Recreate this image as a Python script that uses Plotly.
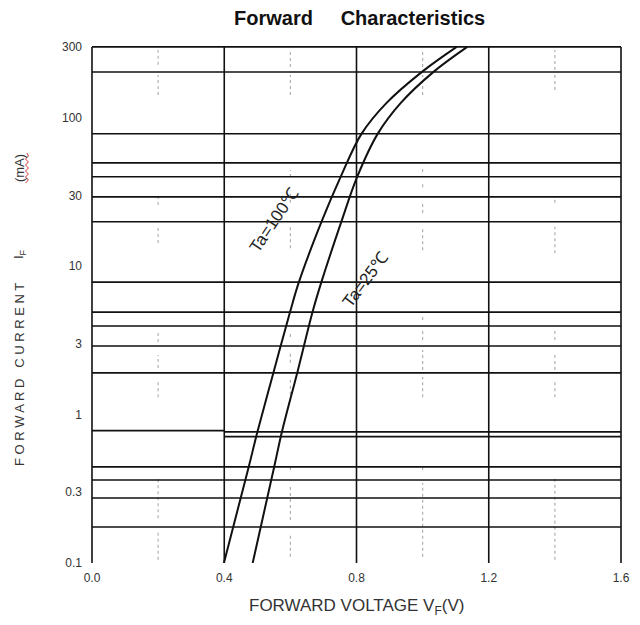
import math
import plotly.graph_objects as go

# ---------------- data ----------------
# forward current levels read on both curves (mA)
if_levels = [0.1, 0.444, 0.775, 2.0, 4.91, 7.83, 19.85, 39.9, 77.8, 125.8, 203.6, 300]
# Ta = 100 C curve: forward voltage (V) at those currents
vf_100 = [0.399, 0.474, 0.501, 0.551, 0.599, 0.626, 0.694, 0.752, 0.815, 0.891, 0.998, 1.103]
# Ta = 25 C curve
vf_25 = [0.486, 0.551, 0.575, 0.623, 0.667, 0.694, 0.754, 0.802, 0.864, 0.934, 1.033, 1.135]

# chart grid as printed on the sheet
x_lines = [0.0, 0.4, 0.8, 1.2, 1.6]
y_lines_full = [300, 203, 78, 49.6, 40, 29.3, 19.9, 7.8, 4.9, 3.95, 2.9, 1.91, 0.444, 0.362, 0.274, 0.175]
y_lines_left = [0.78]          # only from 0.0 to 0.4
y_lines_right = [0.765, 0.71]  # only from 0.4 to 1.6

# faint dotted marks (scan residue of minor grid)
dot_x = [0.2, 0.6, 1.0, 1.4]
dot_segments = [
    [[227, 286], [142, 194], [25.8, 29.3], [14.3, 18.4], [3.08, 3.6], [2.06, 2.52], [1.31, 1.66], [0.2, 0.37], [0.105, 0.16]],
    [[220, 286], [142, 194], [39.9, 44.5], [26.7, 31.6], [13.2, 18.4], [3.33, 3.6], [2.23, 2.64], [1.36, 1.71], [0.423, 0.457], [0.195, 0.325], [0.11, 0.159]],
    [[200, 286], [142, 194], [43, 45], [34, 36.3], [22.8, 26.7], [12.8, 18.4], [4.34, 4.55], [3.18, 3.72], [2.0, 2.72], [1.31, 1.79], [0.423, 0.457], [0.11, 0.346]],
    [[210, 286], [154, 194], [26.7, 29.3], [12.2, 18.4], [3.18, 3.72], [2.0, 2.6], [1.31, 1.71], [0.105, 0.38]],
]

x_ticks = [0.0, 0.4, 0.8, 1.2, 1.6]
x_ticktext = ["0.0", "0.4", "0.8", "1.2", "1.6"]
y_ticks = [0.1, 0.3, 1, 3, 10, 30, 100, 300]
y_ticktext = ["0.1", "0.3", "1", "3", "10", "30", "100", "300"]

label_100 = ("Ta=100℃", 0.551, 20.2, -56)
label_25 = ("Ta=25℃", 0.829, 8.07, -53)

title_text = "<b>Forward\u00a0\u00a0\u00a0\u00a0\u00a0Characteristics</b>"
# ---------------- figure ----------------
FONT = "Liberation Sans, Arial, sans-serif"
fig = go.Figure()

y_min, y_max = 0.1, 300
ML, MR, MT, MB = 91, 10, 46, 62
W, H = 640, 625
PW, PH = float(W - ML - MR), float(H - MT - MB)


def px(x):
    return (x - ML) / PW


def py(y):
    return (H - MB - y) / PH


# dotted marks
dx, dy = [], []
for xv, segs in zip(dot_x, dot_segments):
    for lo, hi in segs:
        dx += [xv, xv, None]
        dy += [lo, hi, None]
fig.add_trace(go.Scatter(x=dx, y=dy, mode="lines",
                         line=dict(color="#b0b0b0", width=1.2, dash="dot"),
                         hoverinfo="skip", showlegend=False))

# grid lines
gx, gy = [], []
for xv in x_lines:
    gx += [xv, xv, None]
    gy += [y_min, y_max, None]
for yv in y_lines_full:
    gx += [x_lines[0], x_lines[-1], None]
    gy += [yv, yv, None]
for yv in y_lines_left:
    gx += [x_lines[0], x_lines[1], None]
    gy += [yv, yv, None]
for yv in y_lines_right:
    gx += [x_lines[1], x_lines[-1], None]
    gy += [yv, yv, None]
fig.add_trace(go.Scatter(x=gx, y=gy, mode="lines",
                         line=dict(color="#111111", width=1.6),
                         hoverinfo="skip", showlegend=False))

for vx in [vf_100, vf_25]:
    fig.add_trace(go.Scatter(x=vx, y=if_levels, mode="lines",
                             line=dict(color="#111111", width=2, shape="spline", smoothing=1.0),
                             hoverinfo="skip", showlegend=False))

annotations = []
for txt, xv, yv, ang in [label_100, label_25]:
    annotations.append(dict(x=xv, y=math.log10(yv), xref="x", yref="y", text=txt,
                            showarrow=False, textangle=ang, xanchor="center", yanchor="middle",
                            font=dict(family=FONT, size=17, color="#222222")))

# title
annotations.append(dict(x=px(364), y=py(18), xref="paper", yref="paper",
                        text=title_text, showarrow=False, xanchor="center", yanchor="middle",
                        font=dict(family=FONT, size=20, color="#111111")))

# y axis title pieces
for txt, yy in [("F O R W A R D   C U R R E N T", 375), ("I<sub>F</sub>", 254), ("(mA)", 168)]:
    annotations.append(dict(x=px(18), y=py(yy), xref="paper", yref="paper",
                            text=txt, showarrow=False, textangle=-90,
                            xanchor="center", yanchor="middle",
                            font=dict(family=FONT, size=13, color="#333333")))
# x axis title
annotations.append(dict(x=px(361), y=py(607), xref="paper", yref="paper",
                        text="FORWARD VOLTAGE V<sub>F</sub>(V)", showarrow=False,
                        xanchor="center", yanchor="middle",
                        font=dict(family=FONT, size=17, color="#333333")))

# red spell-check squiggle under "(mA)"
wx0 = px(26)
amp = 1.5 / PW
ys = [py(p) for p in range(153, 184, 3)]
path = "M %f,%f" % (wx0, ys[0])
for k, yv in enumerate(ys[1:]):
    path += " L %f,%f" % (wx0 + (amp if k % 2 == 0 else -amp), yv)
shapes = [dict(type="path", path=path, xref="paper", yref="paper",
               line=dict(color="#d03030", width=1))]

fig.update_layout(
    width=W, height=H, autosize=False,
    margin=dict(l=ML, r=MR, t=MT, b=MB),
    paper_bgcolor="white", plot_bgcolor="white",
    annotations=annotations, shapes=shapes,
    xaxis=dict(range=[-0.003, 1.603], tickvals=x_ticks, ticktext=x_ticktext,
               showgrid=False, zeroline=False, showline=False, ticks="",
               ticklabelstandoff=6, ticklabeloverflow="allow",
               tickfont=dict(family=FONT, size=12, color="#333333")),
    yaxis=dict(type="log", range=[math.log10(y_min), math.log10(y_max) + 0.006],
               tickvals=y_ticks, ticktext=y_ticktext,
               showgrid=False, zeroline=False, showline=False, ticks="",
               ticklabelstandoff=8,
               tickfont=dict(family=FONT, size=12, color="#333333")),
)

fig.write_html("out.html", config={"responsive": False, "displayModeBar": False},
               post_script="document.body.style.margin='0';document.body.style.overflow='hidden';")
